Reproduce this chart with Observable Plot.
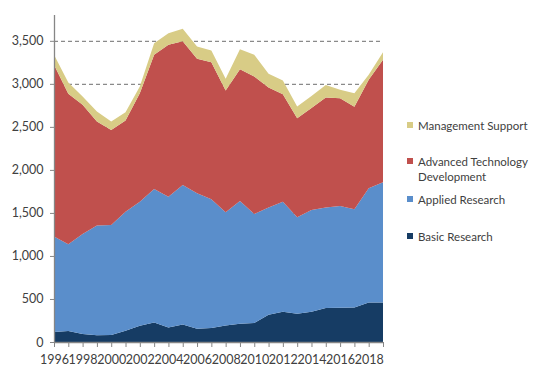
<!DOCTYPE html>
<html>
<head>
<meta charset="utf-8">
<script src="https://cdn.jsdelivr.net/npm/d3@7"></script>
<script src="https://cdn.jsdelivr.net/npm/@observablehq/plot@0.6"></script>
<style>
  html, body { margin: 0; padding: 0; background: #fff; }
  #wrap { position: relative; width: 541px; height: 377px; font-family: Lato, "Liberation Sans", sans-serif; }
  #legend { position: absolute; left: 407px; top: 0; font-size: 11.5px; color: #404040; line-height: 15px; }
  .item { position: absolute; left: 0; white-space: nowrap; }
  .sw { position: absolute; left: 0; top: 4px; width: 6px; height: 6px; }
  .lbl { position: absolute; left: 11px; top: 0; }
</style>
</head>
<body>
<div id="wrap"></div>
<script>
const years = [1996,1997,1998,1999,2000,2001,2002,2003,2004,2005,2006,2007,2008,2009,2010,2011,2012,2013,2014,2015,2016,2017,2018,2019];
const basicResearch = [116,128,93,77,81,131,189,227,169,204,154,162,193,212,220,317,352,328,352,394,398,401,459,459];
const appliedResearch = [1109,1009,1163,1276,1280,1384,1442,1551,1520,1621,1574,1497,1315,1427,1268,1245,1279,1122,1183,1168,1183,1142,1328,1397];
const advancedTechDev = [1996,1747,1500,1209,1104,1058,1260,1559,1764,1671,1565,1593,1414,1532,1597,1395,1249,1151,1185,1279,1252,1190,1260,1423];
const managementSupport = [116,131,97,116,97,98,78,136,136,144,141,136,136,232,252,159,158,135,140,147,97,158,58,87];
const seriesNames = ["Basic Research","Applied Research","Advanced Technology Development","Management Support"];
const seriesColors = ["#163C64","#5A8ECB","#C0504D","#D8CC86"];
const yTicks = [0,500,1000,1500,2000,2500,3000,3500];
const xLabelYears = [1996,1998,2000,2002,2004,2006,2008,2010,2012,2014,2016,2018];

const seriesValues = [basicResearch, appliedResearch, advancedTechDev, managementSupport];
const rows = [];
seriesNames.forEach((name, i) => {
  years.forEach((yr, j) => rows.push({year: yr, value: seriesValues[i][j], series: name}));
});

const chart = Plot.plot({
  width: 541,
  height: 377,
  marginLeft: 54,
  marginRight: 158,
  marginTop: 15,
  marginBottom: 35,
  style: {fontFamily: "Lato, 'Liberation Sans', sans-serif", fontSize: "12.5px", color: "#404040", background: "#fff"},
  x: {domain: [1996, 2019]},
  y: {domain: [0, 3800]},
  color: {domain: seriesNames, range: seriesColors},
  marks: [
    Plot.ruleY(yTicks.filter(d => d > 0), {stroke: "#8a8a8a", strokeWidth: 1.3, strokeDasharray: "4,3"}),
    Plot.areaY(rows, {x: "year", y: "value", fill: "series", z: "series", order: seriesNames}),
    Plot.ruleX([1996], {stroke: "#868686", strokeWidth: 1.3}),
    Plot.ruleY([0], {stroke: "#868686", strokeWidth: 1.3}),
    Plot.axisY({ticks: yTicks, tickSize: 4, tickPadding: 7, stroke: "#868686", label: null, tickFormat: d3.format(","), fontSize: 12.5}),
    Plot.axisX({ticks: years, tickSize: 5, tickPadding: 8, stroke: "#868686", label: null, tickFormat: d => xLabelYears.includes(d) ? String(d) : "", fontSize: 12.5})
  ]
});

const wrap = document.getElementById("wrap");
wrap.appendChild(chart);

const legend = document.createElement("div");
legend.id = "legend";
const legendItems = [
  {name: "Management Support", top: 118, color: seriesColors[3]},
  {name: "Advanced Technology<br>Development", top: 154, color: seriesColors[2]},
  {name: "Applied Research", top: 192, color: seriesColors[1]},
  {name: "Basic Research", top: 229, color: seriesColors[0]}
];
legendItems.forEach(it => {
  const d = document.createElement("div");
  d.className = "item";
  d.style.top = it.top + "px";
  d.innerHTML = `<span class="sw" style="background:${it.color}"></span><span class="lbl">${it.name}</span>`;
  legend.appendChild(d);
});
wrap.appendChild(legend);
</script>
</body>
</html>
